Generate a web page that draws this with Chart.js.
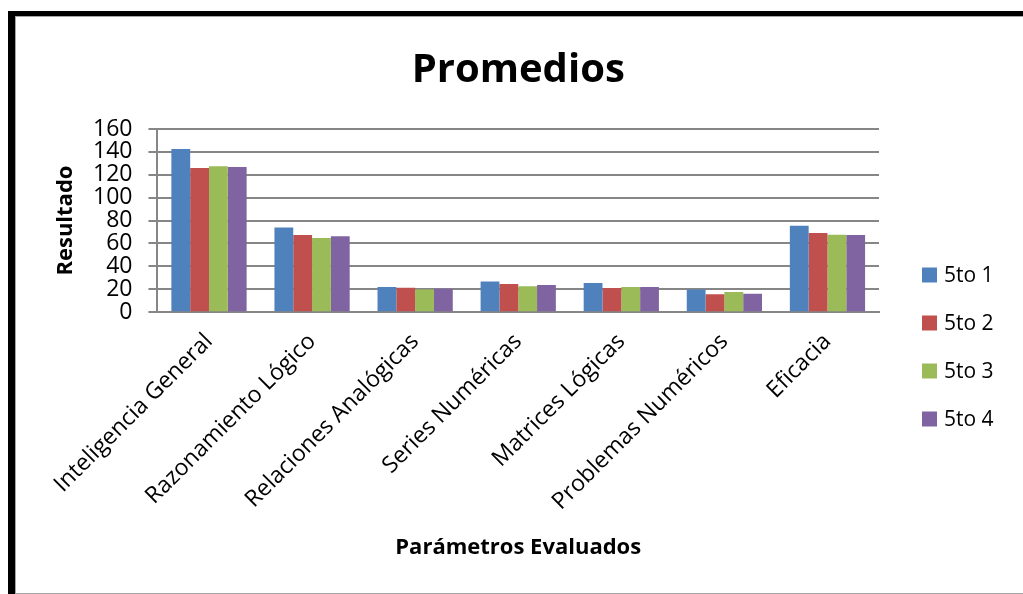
<!DOCTYPE html>
<html lang="es">
<head>
<meta charset="utf-8">
<title>Promedios</title>
<script src="https://cdn.jsdelivr.net/npm/chart.js@4.4.1/dist/chart.umd.min.js"></script>
<style>
  html, body { margin: 0; padding: 0; background: #fff; overflow: hidden; }
  .marco { position: absolute; left: 8px; top: 11px; width: 1100px; height: 583px; border-top: 5px solid #000; border-left: 7px solid #000; box-sizing: border-box; }
  .marco-int { position: absolute; left: 15px; top: 16px; width: 1100px; height: 578px; border: 1px solid #a6a6a6; border-right: none; box-sizing: border-box; }
  #grafico { position: absolute; left: 0; top: 0; }
</style>
</head>
<body>
<div class="marco"></div>
<div class="marco-int"></div>
<canvas id="grafico" width="1023" height="594"></canvas>
<script>
// datos
const categorias = ['Inteligencia General', 'Razonamiento Lógico', 'Relaciones Analógicas', 'Series Numéricas', 'Matrices Lógicas', 'Problemas Numéricos', 'Eficacia'];
const series = ['5to 1', '5to 2', '5to 3', '5to 4'];
const quinto1 = [142.5, 74.0, 21.9, 26.8, 25.4, 19.8, 75.5];
const quinto2 = [125.9, 67.3, 21.3, 24.5, 21.0, 15.7, 69.1];
const quinto3 = [127.4, 64.7, 19.8, 22.7, 21.9, 17.5, 67.6];
const quinto4 = [126.8, 66.4, 20.4, 23.6, 21.9, 16.0, 67.3];
const ticksY = [0, 20, 40, 60, 80, 100, 120, 140, 160];

const colores = ['#4F81BD', '#C0504D', '#9BBB59', '#8064A2'];
const fuente = "'Open Sans', 'DejaVu Sans', sans-serif";
const gris = '#868686';

// leyenda a la derecha, como en Excel
const leyendaLateral = {
  id: 'leyendaLateral',
  afterDraw(chart, args, opts) {
    const { ctx, chartArea } = chart;
    const x = chartArea.right + opts.margen;
    ctx.save();
    ctx.font = opts.font;
    ctx.textBaseline = 'middle';
    ctx.textAlign = 'left';
    chart.data.datasets.forEach((ds, i) => {
      const y = opts.inicio + i * opts.paso;
      ctx.fillStyle = ds.backgroundColor;
      ctx.fillRect(x, y - opts.caja / 2, opts.caja, opts.caja);
      ctx.fillStyle = '#000';
      ctx.fillText(ds.label, x + opts.caja + 7, y + 1);
    });
    ctx.restore();
  }
};

const valores = [quinto1, quinto2, quinto3, quinto4];

new Chart(document.getElementById('grafico'), {
  type: 'bar',
  data: {
    labels: categorias,
    datasets: series.map((nombre, i) => ({
      label: nombre,
      data: valores[i],
      backgroundColor: colores[i],
      categoryPercentage: 0.73,
      barPercentage: 1.0
    }))
  },
  options: {
    responsive: false,
    animation: false,
    layout: { padding: { left: 55, right: 144, top: 0, bottom: 33 } },
    plugins: {
      legend: { display: false },
      title: {
        display: true,
        fullSize: false,
        text: 'Promedios',
        color: '#000',
        font: { family: fuente, size: 40, weight: 'bold' },
        padding: { top: 47, bottom: 34 }
      },
      leyendaLateral: { margen: 43, inicio: 275, paso: 48, caja: 15, font: "21px " + fuente }
    },
    scales: {
      x: {
        grid: { display: false, drawTicks: false },
        border: { display: true, color: gris, width: 2 },
        ticks: {
          color: '#000',
          font: { family: fuente, size: 23 },
          minRotation: 45,
          maxRotation: 45,
          autoSkip: false,
          padding: 16
        },
        title: {
          display: true,
          text: 'Parámetros Evaluados',
          color: '#000',
          font: { family: fuente, size: 22, weight: 'bold' },
          padding: { top: 3, bottom: 0 }
        }
      },
      y: {
        min: 0,
        max: 160,
        afterBuildTicks: (axis) => { axis.ticks = ticksY.map(v => ({ value: v })); },
        grid: { color: gris, lineWidth: 2, tickLength: 9 },
        border: { color: gris, width: 2 },
        ticks: {
          color: '#000',
          font: { family: fuente, size: 23 },
          padding: 16,
          autoSkip: false
        },
        title: {
          display: true,
          text: 'Resultado',
          color: '#000',
          font: { family: fuente, size: 22, weight: 'bold', lineHeight: 1 },
          padding: { top: 0, bottom: 0 }
        }
      }
    }
  },
  plugins: [leyendaLateral]
});
</script>
</body>
</html>
